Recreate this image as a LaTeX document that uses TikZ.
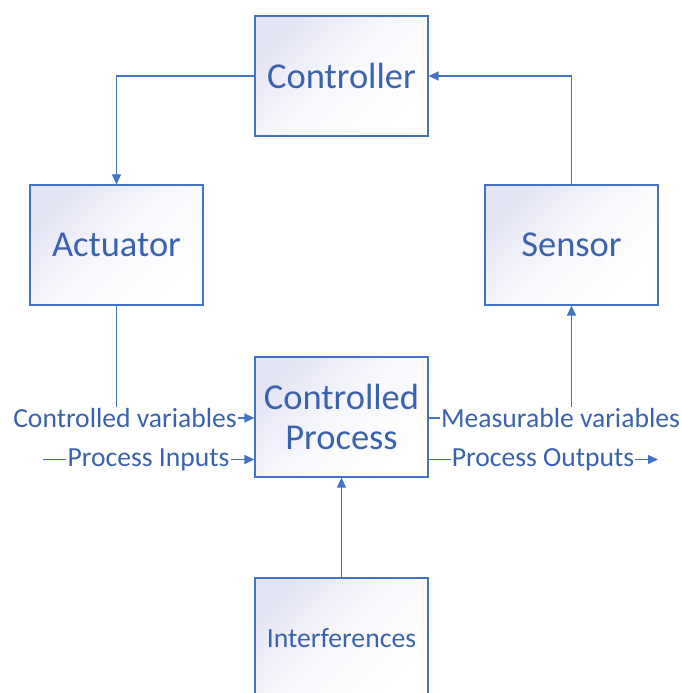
\documentclass[tikz,border=0pt]{standalone}
\usepackage{fontspec}
\setmainfont{Carlito}
\usetikzlibrary{arrows.meta}
\definecolor{vblue}{RGB}{68,114,196}
\definecolor{vtext}{RGB}{59,98,176}
\definecolor{vfill}{RGB}{228,229,244}
\begin{document}
\begin{tikzpicture}[x=1pt,y=-1pt,
 box/.style={draw=vblue, line width=1.2pt, minimum width=173pt, minimum height=120pt,
   top color=vfill, bottom color=white, middle color=vfill!25!white, shading angle=45, text=vtext,
   font=\fontsize{36.5}{40}\selectfont, align=center, inner sep=0pt},
 lab/.style={text=vtext, font=\fontsize{27.6}{32}\selectfont, inner sep=1pt},
 conn/.style={draw=vblue, line width=1.3pt},
 arr/.style={conn, -{Triangle[length=10pt,width=9pt]}}]
\useasboundingbox (0,0) rectangle (681,693);
\node[box] (ctrl) at (341.5,76) {Controller};
\node[box] (act) at (116.5,245) {Actuator};
\node[box] (sens) at (571.5,245) {Sensor};
\node[box] (cp) at (341.5,417) {Controlled\\Process};
\node[box, font=\fontsize{27.7}{32}\selectfont] (intf) at (341.5,638) {Interferences};
\node[lab] (cv) at (125,418) {Controlled variables};
\node[lab] (pi) at (148.5,459.5) {Process Inputs};
\node[lab] (mv) at (560.5,418) {Measurable variables};
\node[lab] (po) at (543,459.5) {Process Outputs};
\coordinate (pin) at (43,459.5);
\coordinate (pout) at (658,459.5);
\draw[arr] (ctrl.west) -| (act.north);
\draw[arr] (sens.north) |- (ctrl.east);
\draw[conn] (act.south) -- (act.south |- cv.north);
\draw[arr] (cv.east) -- (cv.east -| cp.west);
\draw[conn] (pin) -- (pi.west);
\draw[arr] (pi.east) -- (pi.east -| cp.west);
\draw[conn] (mv.west -| cp.east) -- (mv.west);
\draw[arr] (sens.south |- mv.north) -- (sens.south);
\draw[conn] (po.west -| cp.east) -- (po.west);
\draw[arr] (po.east) -- (pout);
\draw[arr] (intf.north) -- (cp.south);
\end{tikzpicture}
\end{document}
